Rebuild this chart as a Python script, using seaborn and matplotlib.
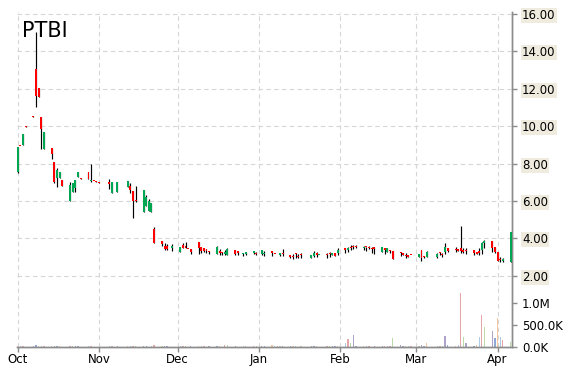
import numpy as np
import pandas as pd
import matplotlib
matplotlib.use("Agg")
import matplotlib.pyplot as plt
import matplotlib.dates as mdates
from matplotlib.ticker import FixedLocator, FixedFormatter
import seaborn as sns

# ---------------- data ----------------
symbol = "PTBI"
no_trade_days = ["2019-11-28", "2019-12-25", "2020-01-01", "2020-01-20", "2020-03-06"]
dates = pd.bdate_range("2019-10-01", "2020-04-06").drop(pd.to_datetime(no_trade_days))

opens = [
    # Oct
    7.57, 8.95, 9.00, 10.02, 10.55, 13.04, 12.06, 10.51, 8.77, 8.83, 8.07, 7.21, 7.21, 7.12,
    6.00, 6.50, 6.68, 7.30, 7.22, 7.53, 7.05, 7.08, 7.06,
    # Nov
    7.00, 7.02, 7.00, 6.44, 7.02, 6.48, 7.02, 6.76, 6.80, 6.53, 6.05, 5.43, 5.73, 5.47, 5.43,
    4.52, 3.86, 3.60, 3.60, 3.50,
    # Dec
    3.29, 3.66, 3.60, 3.45, 3.42, 3.81, 3.52, 3.47, 3.42, 3.34, 3.17, 3.34, 3.24, 3.17, 3.10,
    3.38, 3.34, 3.17, 3.17, 3.20, 3.24,
    # Jan
    3.15, 3.17, 3.31, 3.18, 3.16, 3.11, 3.20, 3.11, 3.05, 3.20, 3.05, 3.17, 2.94, 3.06, 3.20,
    3.10, 3.17, 3.22, 3.11, 3.20, 3.20,
    # Feb
    3.47, 3.38, 3.56, 3.60, 3.56, 3.50, 3.56, 3.56, 3.47, 3.52, 3.29, 3.47, 3.29, 3.38, 3.34,
    3.24, 3.20, 3.11, 3.11, 3.11,
    # Mar
    3.02, 3.38, 3.05, 3.02, 3.00, 3.29, 3.15, 3.26, 3.50, 3.45, 3.42, 3.47, 3.38, 3.40, 3.38,
    3.29, 3.33, 3.38, 3.74, 3.86, 3.56,
    # Apr
    3.26, 2.90, 2.79, 2.76,
]
highs = [
    8.90, 8.95, 9.60, 10.02, 10.55, 15.05, 12.06, 10.51, 9.69, 8.83, 8.07, 7.75, 7.57, 7.12,
    7.03, 6.95, 7.12, 7.57, 7.22, 7.53, 8.00, 7.08, 7.06,
    7.00, 7.02, 7.18, 7.03, 7.02, 7.00, 7.02, 7.07, 6.95, 6.53, 6.80, 6.59, 6.30, 6.10, 5.88,
    4.60, 3.86, 3.74, 3.70, 3.70,
    3.52, 3.74, 3.80, 3.45, 3.42, 3.81, 3.52, 3.47, 3.42, 3.34, 3.60, 3.42, 3.27, 3.38, 3.50,
    3.38, 3.34, 3.24, 3.27, 3.34, 3.27,
    3.38, 3.31, 3.34, 3.18, 3.16, 3.20, 3.42, 3.11, 3.17, 3.20, 3.17, 3.20, 3.11, 3.34, 3.29,
    3.12, 3.20, 3.26, 3.24, 3.20, 3.47,
    3.47, 3.52, 3.63, 3.63, 3.63, 3.60, 3.56, 3.60, 3.52, 3.52, 3.52, 3.47, 3.47, 3.38, 3.34,
    3.29, 3.20, 3.20, 3.11, 3.11,
    3.15, 3.38, 3.07, 3.30, 3.20, 3.29, 3.20, 3.74, 3.50, 3.56, 3.42, 4.66, 3.47, 3.47, 3.38,
    3.29, 3.50, 3.82, 3.92, 3.86, 3.56,
    3.26, 3.00, 2.97, 4.36,
]
lows = [
    7.51, 8.92, 9.00, 9.98, 10.51, 11.04, 11.58, 8.76, 8.77, 8.23, 6.98, 6.76, 7.21, 6.82,
    6.00, 6.50, 6.50, 7.30, 7.19, 7.18, 7.03, 7.05, 7.03,
    6.97, 6.99, 6.63, 6.44, 6.99, 6.48, 6.99, 6.76, 6.41, 5.07, 5.96, 5.43, 5.73, 5.47, 5.43,
    3.74, 3.60, 3.38, 3.38, 3.33,
    3.29, 3.47, 3.47, 3.42, 3.17, 3.17, 3.24, 3.27, 3.24, 3.17, 3.17, 3.11, 3.10, 3.10, 3.10,
    3.11, 3.11, 3.06, 3.10, 3.17, 3.10,
    3.11, 3.07, 3.07, 3.16, 3.14, 3.07, 3.06, 2.94, 2.88, 2.94, 2.97, 2.94, 2.94, 3.02, 3.02,
    3.10, 2.94, 3.02, 3.11, 3.06, 3.11,
    3.24, 3.29, 3.38, 3.42, 3.47, 3.38, 3.34, 3.42, 3.20, 3.17, 3.29, 3.17, 3.29, 3.24, 2.88,
    3.06, 3.11, 2.94, 3.02, 3.09,
    3.02, 2.79, 2.94, 3.02, 2.97, 3.11, 3.02, 3.15, 3.29, 3.26, 3.33, 3.20, 3.20, 3.15, 3.11,
    3.15, 3.11, 3.15, 3.47, 3.29, 3.20,
    2.79, 2.76, 2.72, 2.76,
]
closes = [
    8.90, 8.92, 9.60, 9.98, 10.51, 11.61, 11.58, 9.83, 9.69, 8.50, 7.03, 7.66, 7.57, 6.82,
    6.86, 6.95, 7.12, 7.57, 7.19, 7.18, 7.12, 7.05, 7.03,
    6.97, 6.99, 6.90, 7.03, 6.99, 7.00, 6.99, 7.07, 6.60, 6.00, 6.00, 6.59, 6.23, 6.02, 5.88,
    3.74, 3.68, 3.45, 3.45, 3.60,
    3.52, 3.50, 3.47, 3.42, 3.27, 3.50, 3.34, 3.34, 3.30, 3.25, 3.56, 3.24, 3.20, 3.27, 3.42,
    3.17, 3.24, 3.24, 3.27, 3.30, 3.17,
    3.38, 3.24, 3.24, 3.16, 3.14, 3.20, 3.15, 3.02, 3.00, 3.15, 3.00, 3.13, 3.11, 3.20, 3.11,
    3.12, 3.13, 3.17, 3.24, 3.06, 3.38,
    3.40, 3.47, 3.50, 3.52, 3.52, 3.56, 3.52, 3.50, 3.42, 3.45, 3.52, 3.40, 3.47, 3.34, 2.88,
    3.20, 3.11, 3.05, 3.02, 3.09,
    3.15, 2.97, 3.00, 3.27, 3.15, 3.20, 3.10, 3.56, 3.30, 3.40, 3.33, 3.33, 3.29, 3.35, 3.24,
    3.15, 3.20, 3.74, 3.86, 3.50, 3.29,
    2.79, 2.86, 2.90, 4.36,
]
volumes = [
    30000, 20000, 20000, 10000, 20000, 40000, 30000, 30000, 20000, 20000, 30000, 20000, 20000,
    10000, 20000, 20000, 30000, 20000, 10000, 20000, 30000, 10000, 10000,
    10000, 10000, 20000, 20000, 10000, 20000, 10000, 20000, 20000, 30000, 20000, 20000, 20000,
    10000, 20000, 50000, 30000, 20000, 20000, 10000,
    20000, 30000, 20000, 10000, 20000, 30000, 20000, 20000, 10000, 20000, 20000, 20000, 10000,
    40000, 50000, 20000, 10000, 20000, 20000, 30000, 20000,
    30000, 20000, 40000, 20000, 20000, 20000, 30000, 30000, 20000, 20000, 10000, 20000, 30000,
    20000, 20000, 10000, 20000, 20000, 30000, 20000, 20000,
    80000, 170000, 80000, 280000, 30000, 20000, 20000, 20000, 10000, 20000, 20000, 30000,
    20000, 30000, 200000, 50000, 20000, 20000, 20000, 20000,
    30000, 40000, 30000, 100000, 20000, 20000, 30000, 240000, 50000, 30000, 40000, 1210000,
    220000, 90000, 30000, 50000, 220000, 710000, 440000, 370000, 210000,
    650000, 220000, 150000, 120000,
]

price_ticks = [2, 4, 6, 8, 10, 12, 14, 16]
price_labels = ["2.00", "4.00", "6.00", "8.00", "10.00", "12.00", "14.00", "16.00"]
volume_ticks = [0, 500000, 1000000]
volume_labels = ["0.0K", "500.0K", "1.0M"]
month_starts = ["2019-10-01", "2019-11-01", "2019-12-01", "2020-01-01",
                "2020-02-01", "2020-03-01", "2020-04-01"]
month_labels = ["Oct", "Nov", "Dec", "Jan", "Feb", "Mar", "Apr"]

# ---------------- styling ----------------
sns.set_theme(style="white")
plt.rcParams["font.family"] = ["DejaVu Sans"]

UP = "#00a651"
DOWN = "#ff0000"
GRID = "#d6d6d6"
AXIS = "#8c8c8c"
vol_palette = ["#f6c6a0", "#a9cbe8", "#e4a6a6", "#bcd9a8", "#aea2c8", "#90a8d8"]

o = np.array(opens); h = np.array(highs); l = np.array(lows); c = np.array(closes)
x = mdates.date2num(dates.to_pydatetime())

df_vol = pd.DataFrame({
    "x": x,
    "volume": volumes,
    "shade": [f"c{i % len(vol_palette)}" for i in range(len(volumes))],
})
shade_map = {f"c{i}": col for i, col in enumerate(vol_palette)}

W, H = 570, 370
fig = plt.figure(figsize=(W / 100, H / 100), dpi=100)
left, right, top, bottom = 17.3, 511.7, 12.0, 347.0
ax_v = fig.add_axes([left / W, 1 - bottom / H, (right - left) / W, (bottom - top) / H])
ax = ax_v.twinx()

# volume bars (seaborn)
sns.barplot(data=df_vol, x="x", y="volume", hue="shade", palette=shade_map,
            native_scale=True, dodge=False, legend=False, width=0.5,
            saturation=1, linewidth=0, ax=ax_v)
ax_v.set_ylim(0, (bottom - top) / 44.4 * 1e6)

# candles
body_col = np.where(c >= o, UP, DOWN)
ax.vlines(x, l, h, color="black", linewidth=0.85, zorder=3)
ax.bar(x, np.maximum(np.abs(c - o), 0.05), bottom=np.minimum(o, c), width=0.75,
       color=body_col, linewidth=0, zorder=4)
p_bottom = 16 - (bottom - 14) / 18.7
p_top = 16 + (14 - top) / 18.7
ax.set_ylim(p_bottom, p_top)

xl = (mdates.date2num(pd.Timestamp("2019-10-01")) - 0.15,
      mdates.date2num(pd.Timestamp("2020-04-06")) + 0.4)
for a in (ax, ax_v):
    a.set_xlim(*xl)
    a.set_xlabel(""); a.set_ylabel("")
    for s in ("top", "left"):
        a.spines[s].set_visible(False)
    a.spines["right"].set_color(AXIS)
    a.spines["bottom"].set_color(AXIS)
    a.spines["right"].set_linewidth(1.0)
    a.spines["bottom"].set_linewidth(1.0)

# x axis
month_pos = mdates.date2num(pd.to_datetime(month_starts).to_pydatetime())
ax_v.xaxis.set_major_locator(FixedLocator(month_pos))
ax_v.xaxis.set_major_formatter(FixedFormatter(month_labels))
ax_v.tick_params(axis="x", direction="out", length=3.5, width=1, color=AXIS,
                 labelsize=8.5, pad=0.5, labelcolor="black", bottom=True)
ax.tick_params(axis="x", bottom=False, labelbottom=False)

# volume y axis on the right
ax_v.yaxis.tick_right()
ax_v.set_yticks(volume_ticks)
ax_v.set_yticklabels(volume_labels)
ax_v.tick_params(axis="y", direction="out", length=3.5, width=1, color=AXIS,
                 labelsize=8.5, pad=4, labelcolor="black", left=False, right=True)

# price y axis
ax.set_yticks(price_ticks)
ax.set_yticklabels(price_labels)
ax.tick_params(axis="y", direction="out", length=3.5, width=1, color=AXIS,
               labelsize=8.5, pad=4, labelcolor="black", right=True)
for t in ax.get_yticklabels():
    t.set_bbox(dict(facecolor="#efebdf", edgecolor="none", pad=0.8))

# grids
ax.grid(False); ax_v.grid(False)
ax.yaxis.grid(True, color=GRID, linestyle=(0, (4, 3)), linewidth=0.8)
ax_v.xaxis.grid(True, color=GRID, linestyle=(0, (4, 3)), linewidth=0.8)
ax.patch.set_visible(False)

fig.text(22 / W, 1 - 37 / H, symbol, fontsize=15, va="baseline", ha="left", color="black")

fig.savefig("out.png", dpi=100, facecolor="white")
